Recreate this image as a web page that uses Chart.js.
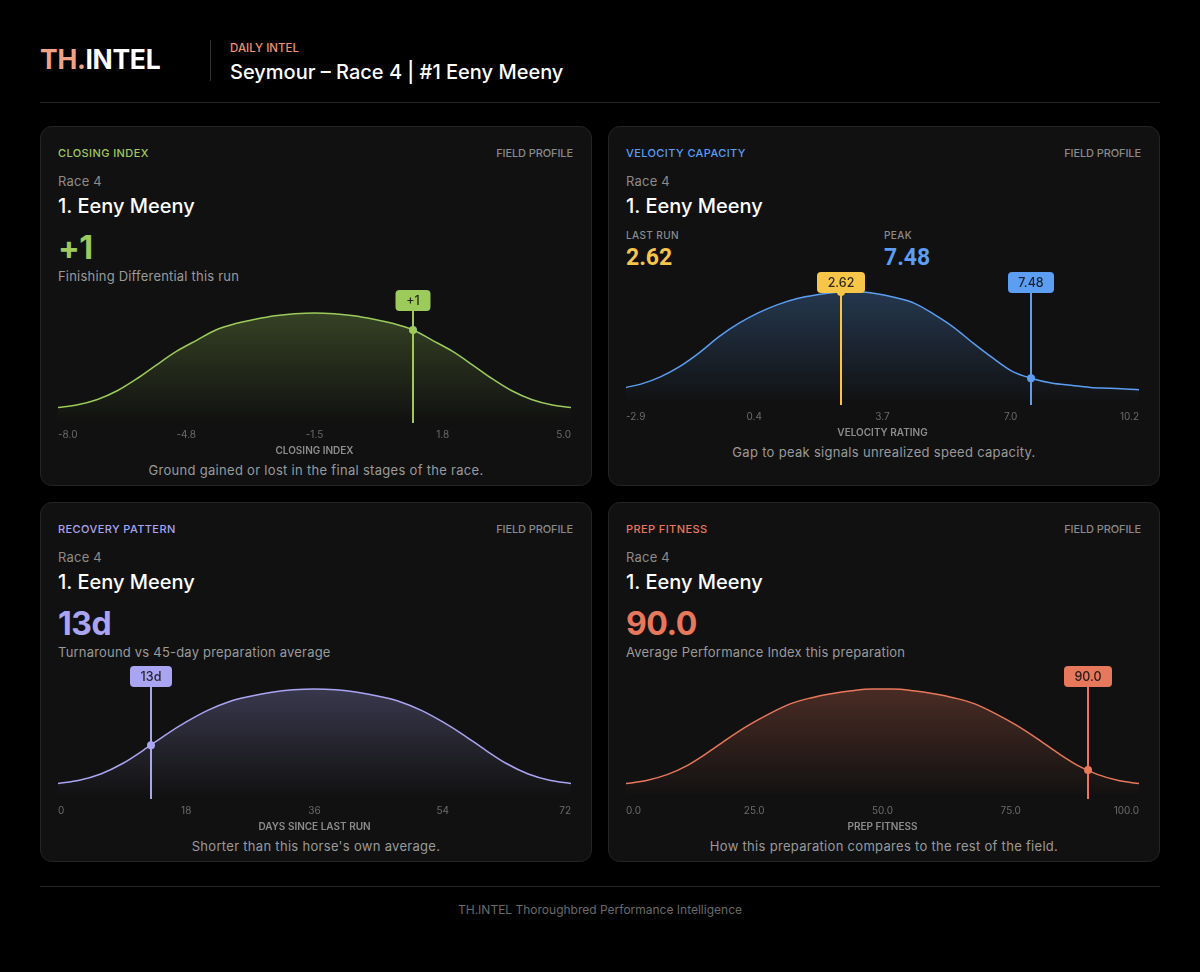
<!DOCTYPE html>
<html>
<head>
<meta charset="utf-8">
<script src="https://cdn.jsdelivr.net/npm/chart.js@4.4.1/dist/chart.umd.min.js"></script>
<style>
html,body{margin:0;padding:0;background:#000;}
body{width:1200px;height:972px;position:relative;overflow:hidden;font-family:Inter,"Noto Sans",sans-serif;color:#fff;}
.a{position:absolute;white-space:nowrap;line-height:1.2;}
.panel{position:absolute;box-sizing:border-box;width:552px;height:360px;background:#111;border:1px solid #242424;border-radius:12px;}
.kick{font-size:11px;font-weight:500;letter-spacing:0.4px;top:19.5px;}
.kick.l{left:17px;}
.kick.r{right:18px;color:#8a8a8a;letter-spacing:-0.1px;}
.race{left:17px;top:47px;font-size:13px;color:#8c8c8c;letter-spacing:0.2px;}
.name{left:17px;top:67px;font-size:20px;font-weight:500;color:#fff;}
.big{left:17px;top:101.5px;font-size:32px;font-weight:700;letter-spacing:-0.5px;}
.sub{left:17px;top:142px;font-size:13px;color:#9a9a9a;letter-spacing:0.2px;}
.cap{left:0;width:550px;text-align:center;top:336px;font-size:13px;color:#9a9a9a;letter-spacing:0.3px;}
.mini{font-size:10px;font-weight:500;letter-spacing:0.4px;color:#8c8c8c;top:102px;}
.mval{font-family:Roboto,Inter,sans-serif;font-size:23px;font-weight:700;top:117px;}
canvas{position:absolute;left:11px;}
</style>
</head>
<body>
<div class="a" style="left:40px;top:43.5px;font-size:26.5px;font-weight:700;letter-spacing:-0.3px;"><span style="color:#f0a285">TH.</span><span style="color:#fff">INTEL</span></div>
<div style="position:absolute;left:210px;top:40px;width:1px;height:41px;background:#333;"></div>
<div class="a" style="left:230px;top:42px;font-size:11.5px;font-weight:500;color:#ee9170;">DAILY INTEL</div>
<div class="a" style="left:230px;top:59.5px;font-size:20px;font-weight:500;color:#fff;">Seymour – Race 4 | #1 Eeny Meeny</div>
<div style="position:absolute;left:40px;top:102px;width:1120px;height:1px;background:#262626;"></div>

<div class="panel" style="left:40px;top:126px;">
  <div class="a kick l" style="color:#9ccb5b">CLOSING INDEX</div>
  <div class="a kick r">FIELD PROFILE</div>
  <div class="a race">Race 4</div>
  <div class="a name">1. Eeny Meeny</div>
  <div class="a big" style="color:#9ccb5b">+1</div>
  <div class="a sub">Finishing Differential this run</div>
  <canvas id="c1" width="525" height="167" style="top:163px;width:525px;height:167px;"></canvas>
  <div class="a cap">Ground gained or lost in the final stages of the race.</div>
</div>

<div class="panel" style="left:608px;top:126px;">
  <div class="a kick l" style="color:#5b9ef2">VELOCITY CAPACITY</div>
  <div class="a kick r">FIELD PROFILE</div>
  <div class="a race">Race 4</div>
  <div class="a name">1. Eeny Meeny</div>
  <div class="a mini" style="left:17px;">LAST RUN</div>
  <div class="a mini" style="left:275px;">PEAK</div>
  <div class="a mval" style="left:17px;color:#f7c548;">2.62</div>
  <div class="a mval" style="left:275px;color:#5b9ef2;">7.48</div>
  <canvas id="c2" width="525" height="167" style="top:144.7px;width:525px;height:167px;"></canvas>
  <div class="a cap" style="top:318px;">Gap to peak signals unrealized speed capacity.</div>
</div>

<div class="panel" style="left:40px;top:502px;">
  <div class="a kick l" style="color:#aaa5f2">RECOVERY PATTERN</div>
  <div class="a kick r">FIELD PROFILE</div>
  <div class="a race">Race 4</div>
  <div class="a name">1. Eeny Meeny</div>
  <div class="a big" style="color:#aaa5f2">13d</div>
  <div class="a sub">Turnaround vs 45-day preparation average</div>
  <canvas id="c3" width="525" height="167" style="top:163px;width:525px;height:167px;"></canvas>
  <div class="a cap">Shorter than this horse's own average.</div>
</div>

<div class="panel" style="left:608px;top:502px;">
  <div class="a kick l" style="color:#e8785c">PREP FITNESS</div>
  <div class="a kick r">FIELD PROFILE</div>
  <div class="a race">Race 4</div>
  <div class="a name">1. Eeny Meeny</div>
  <div class="a big" style="color:#e8785c">90.0</div>
  <div class="a sub">Average Performance Index this preparation</div>
  <canvas id="c4" width="525" height="167" style="top:163px;width:525px;height:167px;"></canvas>
  <div class="a cap">How this preparation compares to the rest of the field.</div>
</div>

<div style="position:absolute;left:40px;top:886px;width:1120px;height:1px;background:#262626;"></div>
<div class="a" style="left:0;width:1200px;text-align:center;top:903px;font-size:12px;color:#6a6a6a;">TH.INTEL Thoroughbred Performance Intelligence</div>

<script>
// ---------- DATA ----------
// Closing Index field profile (relative density, % of peak)
const closingX = [-8,-7.5,-7,-6.5,-6,-5.5,-5,-4.5,-4,-3.5,-3,-2.5,-2,-1.5,-1,-0.5,0,0.5,1,1.5,2,2.5,3,3.5,4,4.5,5];
const closingDensity = [14,16.6,21.4,29.3,40.3,52.9,65,74.9,84.5,90.3,94.3,97.5,99.3,100,99.3,97.5,94.3,90.3,84.5,74.9,65,52.9,40.3,29.3,21.4,16.6,14];
const closingTicks = [-8,-4.75,-1.5,1.75,5];
const closingMarker = [1];
const closingMarkerLabel = ['+1'];

// Velocity Rating field profile
const velocityX = [-2.88,-2.5,-2,-1.5,-1,-0.5,0,0.5,1,1.5,2,2.5,3,3.5,4,4.5,5,5.5,6,6.5,7,7.5,8,8.5,9,9.5,10,10.24];
const velocityDensity = [15.5,18.4,24.8,34,46.1,60.2,71.8,81.1,88.4,93.8,97,99.2,100,98.1,94.6,89.5,79.8,68.4,54.5,41.4,29.6,23.4,19.4,17.3,15.5,14.7,13.9,13.5];
const velocityTicks = [-2.88,0.4,3.68,6.96,10.24];
const velocityMarker = [2.62, 7.48];
const velocityMarkerLabel = ['2.62', '7.48'];

// Days since last run field profile
const recoveryX = [0,3,6,9,12,15,18,21,24,27,30,33,36,39,42,45,48,51,54,57,60,63,66,69,72];
const recoveryDensity = [14,17,22.7,32,44.4,57.9,70,80.5,88.4,93.3,97,99.2,100,99.2,97,93.3,88.4,80.5,70,57.9,44.4,32,22.7,17,14];
const recoveryTicks = [0,18,36,54,72];
const recoveryMarker = [13];
const recoveryMarkerLabel = ['13d'];

// Prep fitness field profile
const prepX = [0,4,8,12,16,20,24,28,32,36,40,44,48,52,56,60,64,68,72,76,80,84,88,92,96,100];
const prepDensity = [14,16.8,22.1,30.6,42.3,55.3,67.3,77.6,86.4,91.8,95.6,98.3,99.8,99.8,98.3,95.6,91.8,86.4,77.6,67.3,55.3,42.3,30.6,22.1,16.8,14];
const prepTicks = [0,25,50,75,100];
const prepMarker = [90];
const prepMarkerLabel = ['90.0'];

// ---------- RENDERING ----------
function interp(xs, ys, v){
  for(let i=0;i<xs.length-1;i++){
    if(v>=xs[i] && v<=xs[i+1]){
      const t=(v-xs[i])/(xs[i+1]-xs[i]);
      return ys[i]+(ys[i+1]-ys[i])*t;
    }
  }
  return ys[ys.length-1];
}
function rgba(rgb,a){return 'rgba('+rgb.join(',')+','+a+')';}

const markerPlugin = {
  id:'markers',
  afterDatasetsDraw(chart, args, opts){
    const {ctx, chartArea, scales} = chart;
    (opts.items||[]).forEach(m=>{
      const x = Math.round(scales.x.getPixelForValue(m.value));
      const y = scales.y.getPixelForValue(m.curveY);
      ctx.save();
      ctx.font = '500 12.5px Inter, sans-serif';
      const tw = ctx.measureText(m.text).width;
      const bw = Math.round(tw + 21), bh = 21;
      const bx = x - bw/2, by = chartArea.top;
      ctx.strokeStyle = m.color; ctx.lineWidth = 2;
      ctx.beginPath(); ctx.moveTo(x, by+bh); ctx.lineTo(x, chartArea.bottom); ctx.stroke();
      ctx.fillStyle = m.color;
      ctx.beginPath(); ctx.arc(x, y, 4, 0, Math.PI*2); ctx.fill();
      ctx.beginPath();
      if (ctx.roundRect) ctx.roundRect(bx, by, bw, bh, 4); else ctx.rect(bx,by,bw,bh);
      ctx.fill();
      ctx.fillStyle = 'rgba(10,10,10,0.85)';
      ctx.textAlign='center'; ctx.textBaseline='middle';
      ctx.fillText(m.text, x, by + bh/2 + 0.5);
      ctx.restore();
    });
  }
};

function makeChart(id, xs, ys, ticks, fmt, title, rgb, yMax, markers){
  const color = rgba(rgb,1);
  new Chart(document.getElementById(id), {
    type:'line',
    data:{datasets:[{
      data: xs.map((x,i)=>({x:x, y:ys[i]})),
      borderColor: color,
      borderWidth: 1.5,
      pointRadius: 0,
      pointHoverRadius: 0,
      cubicInterpolationMode:'monotone',
      fill:'origin',
      backgroundColor:(c)=>{
        const ca = c.chart.chartArea;
        if(!ca) return rgba(rgb,0.15);
        const g = c.chart.ctx.createLinearGradient(0, ca.top, 0, ca.bottom);
        g.addColorStop(0, rgba(rgb,0.32));
        g.addColorStop(1, rgba(rgb,0.0));
        return g;
      }
    }]},
    options:{
      responsive:false, animation:false, devicePixelRatio:1,
      layout:{padding:0, autoPadding:false},
      events:[],
      plugins:{
        legend:{display:false}, tooltip:{enabled:false},
        markers:{items: markers.map(m=>({value:m.value, text:m.text, color:m.color, curveY: interp(xs, ys, m.value)}))}
      },
      scales:{
        x:{
          type:'linear', min: ticks[0], max: ticks[ticks.length-1],
          grid:{display:false, drawTicks:false}, border:{display:false},
          afterBuildTicks:(s)=>{ s.ticks = ticks.map(v=>({value:v})); },
          ticks:{align:'inner', padding:6, color:'#6b6b6b', maxRotation:0, autoSkip:false,
                 font:{family:'Inter', size:10}, callback:(v)=>fmt(v)},
          title:{display:true, text:title, color:'#8c8c8c', font:{family:'Inter', size:10, weight:'600'}, padding:{top:-2,bottom:0}}
        },
        y:{display:false, min:0, max:yMax}
      }
    },
    plugins:[markerPlugin]
  });
}

const f1 = v => Number(v).toFixed(1);
const f0 = v => String(Math.round(v));

makeChart('c1', closingX, closingDensity, closingTicks, f1, 'CLOSING INDEX', [156,203,91], 120.8,
  closingMarker.map((v,i)=>({value:v, text:closingMarkerLabel[i], color:'#9ccb5b'})));
makeChart('c2', velocityX, velocityDensity, velocityTicks, f1, 'VELOCITY RATING', [91,158,242], 117.1,
  velocityMarker.map((v,i)=>({value:v, text:velocityMarkerLabel[i], color: i===0 ? '#f7c548' : '#5b9ef2'})));
makeChart('c3', recoveryX, recoveryDensity, recoveryTicks, f0, 'DAYS SINCE LAST RUN', [170,165,242], 120.8,
  recoveryMarker.map((v,i)=>({value:v, text:recoveryMarkerLabel[i], color:'#aaa5f2'})));
makeChart('c4', prepX, prepDensity, prepTicks, f1, 'PREP FITNESS', [232,120,92], 120.8,
  prepMarker.map((v,i)=>({value:v, text:prepMarkerLabel[i], color:'#e8785c'})));
</script>
</body>
</html>
